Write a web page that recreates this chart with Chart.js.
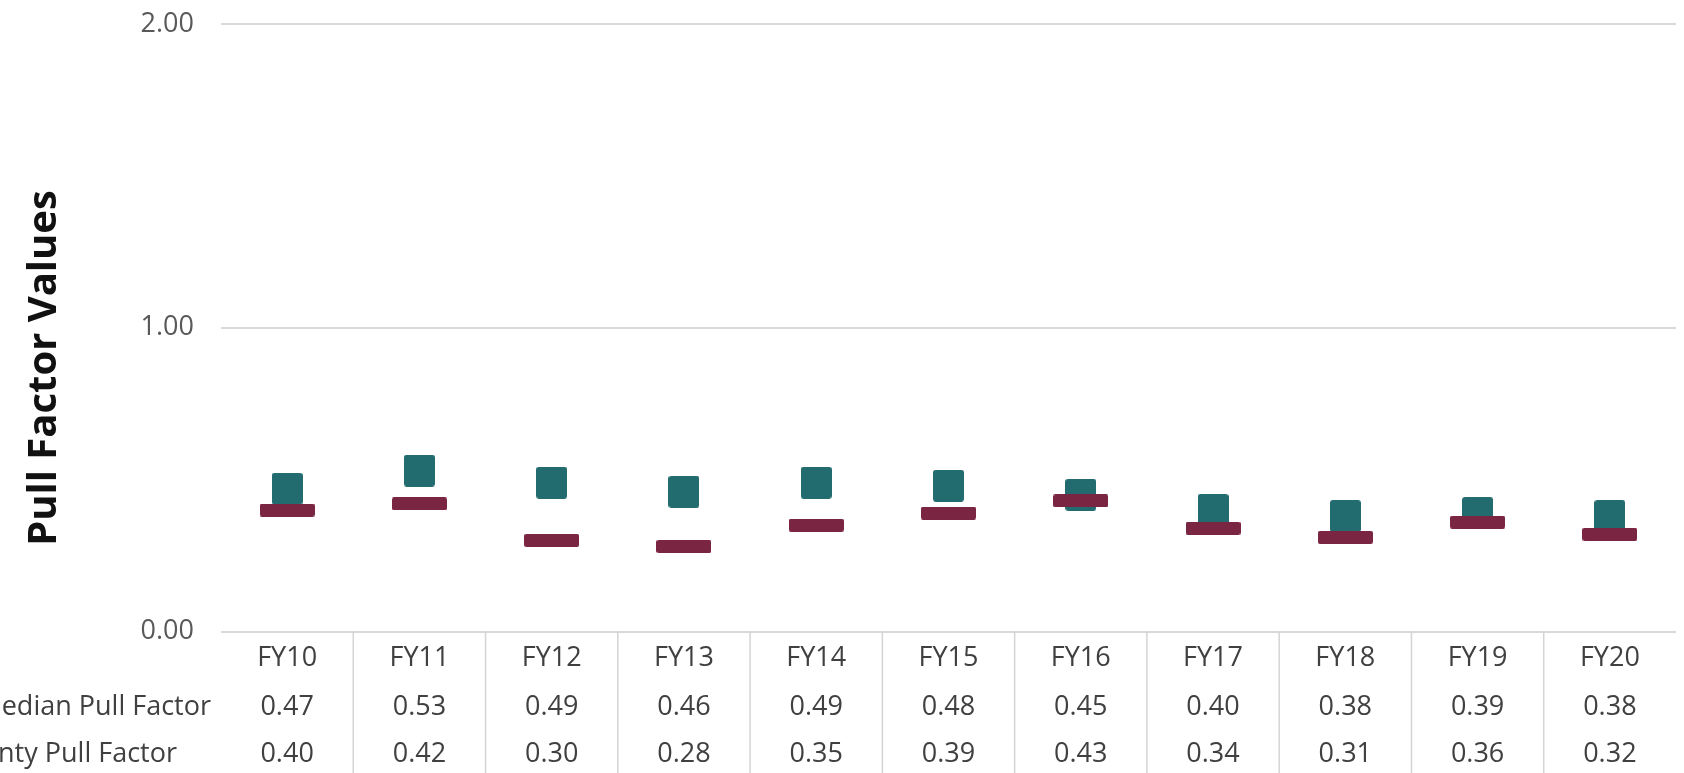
<!DOCTYPE html>
<html>
<head>
<meta charset="utf-8">
<script src="https://cdn.jsdelivr.net/npm/chart.js@4/dist/chart.umd.min.js"></script>
<style>
  html, body { margin: 0; padding: 0; background: #fff; }
  #wrap { position: relative; width: 1684px; height: 773px; }
</style>
</head>
<body>
<div id="wrap"><canvas id="chart"></canvas></div>
<script>
// data
var years = ['FY10', 'FY11', 'FY12', 'FY13', 'FY14', 'FY15', 'FY16', 'FY17', 'FY18', 'FY19', 'FY20'];
var medianPull = [0.47, 0.53, 0.49, 0.46, 0.49, 0.48, 0.45, 0.40, 0.38, 0.39, 0.38];
var countyPull = [0.40, 0.42, 0.30, 0.28, 0.35, 0.39, 0.43, 0.34, 0.31, 0.36, 0.32];
var rowLabels = ['Median Pull Factor', 'County Pull Factor'];
var yTicks = [0, 1, 2];

var FONT = '"Open Sans", Lato, sans-serif';
var TEAL = '#226b6e';
var MAROON = '#7a2541';

function roundedMarker(w, h, r, color) {
  var c = document.createElement('canvas');
  c.width = w; c.height = h;
  var g = c.getContext('2d');
  g.fillStyle = color;
  g.beginPath();
  g.roundRect(0, 0, w, h, r);
  g.fill();
  return c;
}
var squareMark = roundedMarker(31, 32, 3, TEAL);
var dashMark = roundedMarker(55, 13, 2, MAROON);

// draws the data table under the axis and the rotated axis title
var tablePlugin = {
  id: 'tablePlugin',
  afterDraw: function (chart) {
    var ctx = chart.ctx;
    var area = chart.chartArea;
    var xs = chart.scales.x;
    var step = xs.width / years.length;
    ctx.save();
    // vertical dividers
    ctx.strokeStyle = '#d4d4d4';
    ctx.lineWidth = 1.5;
    for (var i = 1; i < years.length; i++) {
      var xd = xs.getPixelForValue(i) - step / 2;
      ctx.beginPath();
      ctx.moveTo(xd, area.bottom);
      ctx.lineTo(xd, chart.height);
      ctx.stroke();
    }
    ctx.font = '27px ' + FONT;
    ctx.fillStyle = '#404040';
    ctx.textAlign = 'center';
    ctx.textBaseline = 'middle';
    // category row
    chart.data.labels.forEach(function (lab, j) {
      ctx.fillText(lab, xs.getPixelForValue(j), area.bottom + 27);
    });
    // value rows
    var rowY = [area.bottom + 76, area.bottom + 123];
    [medianPull, countyPull].forEach(function (arr, r) {
      arr.forEach(function (v, j) {
        ctx.fillText(v.toFixed(2), xs.getPixelForValue(j), rowY[r]);
      });
    });
    // row headers, cut off at the left edge like the source
    ctx.textAlign = 'right';
    ctx.fillText(rowLabels[0], 211, rowY[0]);
    ctx.fillText(rowLabels[1], 177, rowY[1]);
    // axis title
    ctx.translate(45, 368);
    ctx.rotate(-Math.PI / 2);
    ctx.textAlign = 'center';
    ctx.font = 'bold 40px ' + FONT;
    ctx.fillStyle = '#111';
    ctx.fillText('Pull Factor Values', 0, 0);
    ctx.restore();
  }
};

new Chart(document.getElementById('chart'), {
  type: 'line',
  data: {
    labels: years,
    datasets: [{
      label: rowLabels[0],
      data: medianPull,
      showLine: false,
      pointStyle: squareMark,
      pointRadius: 16,
      order: 1
    }, {
      label: rowLabels[1],
      data: countyPull,
      showLine: false,
      pointStyle: dashMark,
      pointRadius: 28,
      order: 0
    }]
  },
  options: {
    responsive: true,
    maintainAspectRatio: false,
    animation: false,
    events: [],
    layout: { autoPadding: false, padding: { top: 24, right: 8, left: 0, bottom: 0 } },
    plugins: {
      legend: { display: false },
      tooltip: { enabled: false }
    },
    scales: {
      x: {
        offset: true,
        grid: { display: false },
        border: { display: false },
        ticks: { display: false },
        afterFit: function (s) { s.height = 141.5; }
      },
      y: {
        min: 0,
        max: 2,
        afterBuildTicks: function (s) {
          s.ticks = yTicks.map(function (v) { return { value: v }; });
        },
        grid: { color: '#d9d9d9', lineWidth: 2, drawTicks: false },
        border: { display: false },
        ticks: {
          color: '#595959',
          font: { family: FONT, size: 27 },
          padding: 27,
          callback: function (v) { return Number(v).toFixed(2); }
        },
        afterFit: function (s) {
          s.width = 221;
          s.paddingTop = 0;
          s.paddingBottom = 0;
        }
      }
    }
  },
  plugins: [tablePlugin]
});
</script>
</body>
</html>
